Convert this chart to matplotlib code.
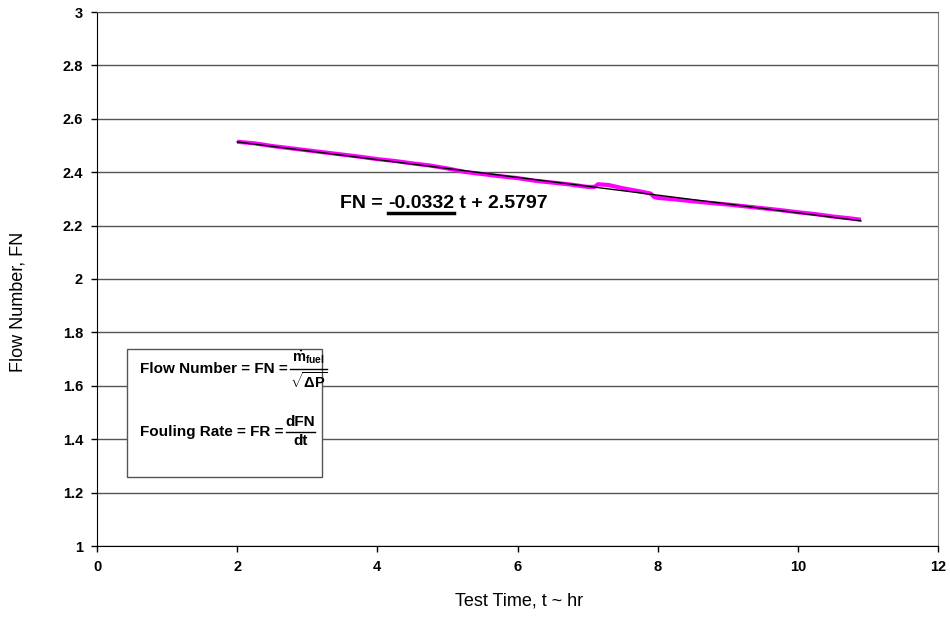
import matplotlib
matplotlib.use("Agg")
import matplotlib.pyplot as plt
from matplotlib.patches import Rectangle
from matplotlib.lines import Line2D

plt.rcParams['font.family'] = ['Liberation Sans', 'DejaVu Sans']
plt.rcParams['mathtext.fontset'] = 'custom'
plt.rcParams['mathtext.rm'] = 'Liberation Sans:bold'
plt.rcParams['mathtext.bf'] = 'Liberation Sans:bold'
plt.rcParams['mathtext.it'] = 'Liberation Sans:bold'
plt.rcParams['mathtext.default'] = 'bf'

test_time = [2.0, 2.25, 2.5, 2.75, 3.0, 3.25, 3.5, 3.75, 4.0, 4.25, 4.5, 4.75,
             5.0, 5.25, 5.5, 5.75, 6.0, 6.25, 6.5, 6.75, 7.0, 7.1, 7.15, 7.3,
             7.5, 7.75, 7.9, 7.95, 8.0, 8.25, 8.5, 8.75, 9.0, 9.25, 9.5, 9.75,
             10.0, 10.25, 10.5, 10.75, 10.9]
flow_number = [2.514, 2.508, 2.498, 2.490, 2.482, 2.474, 2.466, 2.458, 2.449,
               2.442, 2.433, 2.425, 2.414, 2.401, 2.393, 2.385, 2.378, 2.368,
               2.361, 2.354, 2.345, 2.345, 2.355, 2.352, 2.340, 2.328, 2.320,
               2.307, 2.304, 2.298, 2.291, 2.285, 2.279, 2.272, 2.265, 2.258,
               2.250, 2.243, 2.234, 2.227, 2.222]

# linear trend line as printed on the chart
slope = -0.0332
intercept = 2.5797
trend_t = [2.0, 10.9]

W, H = 950, 623
fig = plt.figure(figsize=(W / 100, H / 100), dpi=100)
ax = fig.add_axes([97 / W, 1 - 546 / H, 841 / W, 534 / H])

ax.plot(test_time, flow_number, color='#ff00ff', lw=3.0, solid_capstyle='butt', zorder=3)
ax.plot(trend_t, [slope * t + intercept for t in trend_t], color='black', lw=1.0, zorder=4)

ax.set_xlim(0, 12)
ax.set_ylim(1, 3)
ax.set_xticks(range(0, 13, 2))
ax.set_yticks([1, 1.2, 1.4, 1.6, 1.8, 2, 2.2, 2.4, 2.6, 2.8, 3])
ax.set_yticklabels(['1', '1.2', '1.4', '1.6', '1.8', '2', '2.2', '2.4', '2.6', '2.8', '3'])
ax.yaxis.grid(True, color='#555555', lw=1.0)
ax.set_axisbelow(True)
ax.tick_params(direction='out', length=4, width=1, labelsize=10.5, pad=6)
for lab in ax.get_xticklabels() + ax.get_yticklabels():
    lab.set_fontweight('bold')
ax.spines['left'].set_color('black')
ax.spines['bottom'].set_color('black')
ax.spines['right'].set_color('#808080')
ax.spines['top'].set_color('#555555')

ax.set_xlabel('Test Time, t ~ hr', fontsize=13)
ax.set_ylabel('Flow Number, FN', fontsize=13)
ax.xaxis.set_label_coords(0.502, -0.088)
ax.yaxis.set_label_coords(-0.084, 0.457)

# definitions box
ax.add_patch(Rectangle((0.43, 1.259), 2.78, 0.48, facecolor='white',
                       edgecolor='#555555', lw=1.0, zorder=5))

fig.canvas.draw()
r = fig.canvas.get_renderer()


def ftext(x, y, s, **kw):
    # text placed in figure pixels (origin top-left)
    return fig.text(x / W, 1 - y / H, s, fontweight='bold', zorder=7, **kw)


def hline(x0, x1, y, lw):
    fig.add_artist(Line2D([x0 / W, x1 / W], [1 - y / H, 1 - y / H],
                          color='black', lw=lw, zorder=7))


def fraction(label, num, den, x, y, size, fsize):
    t = ftext(x, y, label, fontsize=size, va='center', ha='left')
    x1 = t.get_window_extent(r).x1 + 2
    n = ftext(0, y - 3, num, fontsize=fsize, va='bottom', ha='center')
    d = ftext(0, y + 2, den, fontsize=fsize, va='top', ha='center')
    wmax = max(n.get_window_extent(r).width, d.get_window_extent(r).width)
    n.set_x((x1 + wmax / 2) / W)
    d.set_x((x1 + wmax / 2) / W)
    hline(x1, x1 + wmax, y, 1.0)


fraction('Flow Number = FN =', r'$\dot{m}_{fuel}$', r'$\sqrt{\Delta P}$', 140, 369, 11, 10.5)
fraction('Fouling Rate = FR =', 'dFN', 'dt', 140, 432, 11, 11)

# trend equation with underlined slope
parts = ['FN = ', '{:.4f}'.format(slope), ' t + {:.4f}'.format(intercept)]
cur = 340
for i, p in enumerate(parts):
    t = ftext(cur, 203, p, fontsize=14, va='center', ha='left')
    bb = t.get_window_extent(r)
    if i == 1:
        hline(bb.x0, bb.x1, 213, 2.5)
    cur = bb.x1

fig.savefig('out.png', dpi=100)
